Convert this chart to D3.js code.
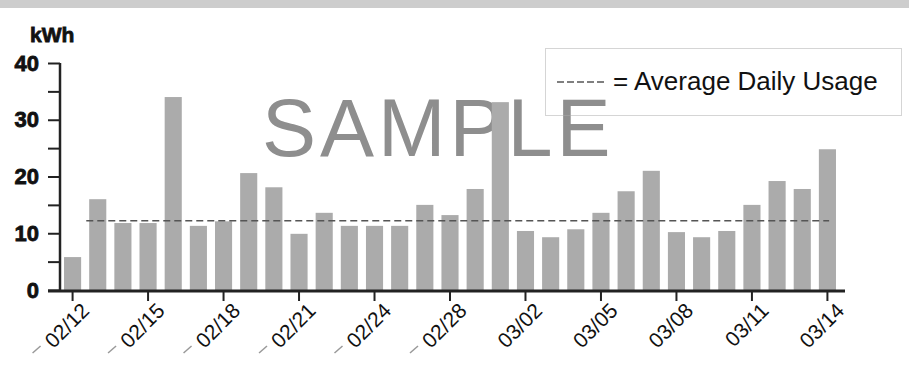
<!DOCTYPE html>
<html>
<head>
<meta charset="utf-8">
<script src="https://cdn.jsdelivr.net/npm/d3@7"></script>
<style>
  body { margin: 0; background: #fff; }
  svg { display: block; font-family: "Liberation Sans", Arial, sans-serif; }
</style>
</head>
<body>
<div id="container"></div>
<script>
// Data
let dates = ["02/12", "02/13", "02/14", "02/15", "02/16", "02/17", "02/18", "02/19",
  "02/20", "02/21", "02/22", "02/23", "02/24", "02/25", "02/27", "02/28", "02/29",
  "03/01", "03/02", "03/03", "03/04", "03/05", "03/06", "03/07", "03/08", "03/09",
  "03/10", "03/11", "03/12", "03/13", "03/14"];
let usage = [5.8, 16.0, 11.8, 11.8, 34.0, 11.3, 12.1, 20.6, 18.1, 9.9, 13.6, 11.3,
  11.3, 11.3, 15.0, 13.2, 17.8, 33.1, 10.4, 9.3, 10.7, 13.6, 17.4, 21.0, 10.2, 9.3,
  10.4, 15.0, 19.2, 17.8, 24.8];
let average = 12.2;
let yTicks = [0, 5, 10, 15, 20, 25, 30, 35, 40];
let tickDates = dates.filter((d, i) => i % 3 === 0);

let width = 909, height = 389;

let svg = d3.select("#container")
  .append("svg")
  .attr("width", width)
  .attr("height", height);

// grey strip along the top
svg.append("rect")
  .attr("x", 0).attr("y", 0)
  .attr("width", width).attr("height", 8)
  .style("fill", "#cdcdcd");

let x = d3.scaleBand()
  .domain(dates)
  .range([60, 840])
  .paddingInner(0.32)
  .paddingOuter(0.16);

let y = d3.scaleLinear()
  .domain([0, 40])
  .range([290, 63]);

// watermark
svg.append("text")
  .attr("x", 262)
  .attr("y", 156)
  .style("font-size", "81px")
  .style("letter-spacing", "4px")
  .style("fill", "#8e8e8e")
  .text("SAMPLE");

// bars
svg.selectAll("rect.bar")
  .data(usage)
  .enter()
  .append("rect")
  .attr("class", "bar")
  .attr("x", (d, i) => x(dates[i]))
  .attr("width", x.bandwidth())
  .attr("y", (d) => y(d))
  .attr("height", (d) => y(0) - y(d))
  .style("fill", "#ababab");

// average line
svg.append("line")
  .attr("x1", x(dates[0]) + x.bandwidth() * 1.3)
  .attr("x2", x(dates[dates.length - 1]) + x.bandwidth() * 0.6)
  .attr("y1", y(average))
  .attr("y2", y(average))
  .style("stroke", "#555")
  .style("stroke-width", 1.5)
  .style("stroke-dasharray", "7,4");

// y axis
let yAxis = svg.append("g")
  .attr("transform", "translate(60,0)")
  .call(d3.axisLeft(y)
    .tickValues(yTicks)
    .tickSize(12)
    .tickPadding(9)
    .tickFormat((d) => d % 10 === 0 ? d : ""));
yAxis.select(".domain").remove();
yAxis.selectAll(".tick line").style("stroke", "#222").style("stroke-width", 2);
yAxis.selectAll(".tick text")
  .style("font-size", "22px")
  .style("font-weight", "bold")
  .style("fill", "#111")
  .style("stroke", "#111")
  .style("stroke-width", 0.8);

svg.append("line")
  .attr("x1", 60).attr("x2", 60)
  .attr("y1", y(40)).attr("y2", y(0))
  .style("stroke", "#222")
  .style("stroke-width", 2.5);

// x axis
let xAxis = svg.append("g")
  .attr("transform", "translate(0,291)")
  .call(d3.axisBottom(x)
    .tickValues(tickDates)
    .tickSize(10)
    .tickSizeOuter(0));
xAxis.select(".domain").remove();
xAxis.selectAll(".tick line").style("stroke", "#222").style("stroke-width", 2);
xAxis.selectAll(".tick text")
  .style("font-size", "21px")
  .style("fill", "#111")
  .attr("text-anchor", "end")
  .attr("x", 0)
  .attr("y", 0)
  .attr("dy", 0)
  .attr("transform", "translate(18,21) rotate(-45)");

// faint ghost dashes before the first labels
xAxis.selectAll(".tick")
  .filter((d, i) => i < 6)
  .append("line")
  .attr("x1", -40).attr("y1", 62)
  .attr("x2", -32).attr("y2", 55)
  .style("stroke", "#999")
  .style("stroke-width", 1.5);

svg.append("line")
  .attr("x1", 48).attr("x2", 845)
  .attr("y1", 291).attr("y2", 291)
  .style("stroke", "#222")
  .style("stroke-width", 3);

// unit label
svg.append("text")
  .attr("x", 30)
  .attr("y", 42)
  .style("font-size", "21px")
  .style("font-weight", "bold")
  .style("fill", "#111")
  .style("stroke", "#111")
  .style("stroke-width", 0.8)
  .text("kWh");

// legend
let legend = svg.append("g");
legend.append("rect")
  .attr("x", 545.5).attr("y", 48.5)
  .attr("width", 356).attr("height", 67)
  .style("fill", "none")
  .style("stroke", "#aaa")
  .style("stroke-width", 1)
  .style("stroke-dasharray", "1,1");
legend.append("line")
  .attr("x1", 557).attr("x2", 605)
  .attr("y1", 82).attr("y2", 82)
  .style("stroke", "#555")
  .style("stroke-width", 1.5)
  .style("stroke-dasharray", "7,3");
legend.append("text")
  .attr("x", 613)
  .attr("y", 90)
  .style("font-size", "26px")
  .style("fill", "#111")
  .text("= Average Daily Usage");
</script>
</body>
</html>
